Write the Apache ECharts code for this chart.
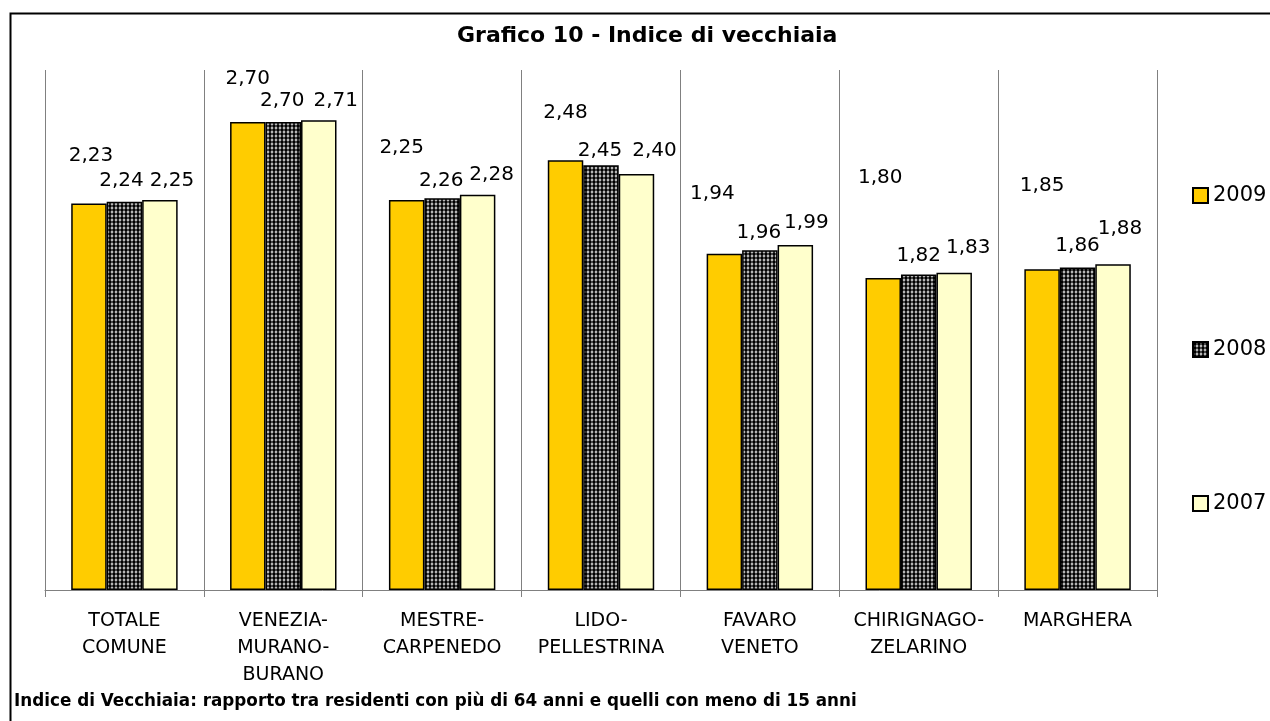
<!DOCTYPE html>
<html>
<head>
<meta charset="utf-8">
<title>Grafico 10 - Indice di vecchiaia</title>
<script src="https://cdn.jsdelivr.net/npm/echarts@6/dist/echarts.min.js"></script>
<style>
  html, body { margin: 0; padding: 0; background: #fff; }
  #chart { width: 1270px; height: 721px; }
</style>
</head>
<body>
<div id="chart"></div>
<script>
// zone names (as printed under the bars)
var categories = [
  'TOTALE\nCOMUNE',
  'VENEZIA-\nMURANO-\nBURANO',
  'MESTRE-\nCARPENEDO',
  'LIDO-\nPELLESTRINA',
  'FAVARO\nVENETO',
  'CHIRIGNAGO-\nZELARINO',
  'MARGHERA'
];
var years = ['2009', '2008', '2007'];
var values2009 = [2.23, 2.70, 2.25, 2.48, 1.94, 1.80, 1.85];
var values2008 = [2.24, 2.70, 2.26, 2.45, 1.96, 1.82, 1.86];
var values2007 = [2.25, 2.71, 2.28, 2.40, 1.99, 1.83, 1.88];

// labels were dragged by hand in the original: gap above the bar and sideways nudge
var lift2009 = [38, 33, 42, 37, 50, 90, 74];
var lift2008 = [11, 11, 7, 5, 7, 9, 12];
var lift2007 = [9, 9, 10, 13, 12, 15, 25];
var nudge2009 = [2, 0, -5, 0, -12, -3, 0];
var nudge2008 = [-3, -1, -1, -1, -1, 0, 0];
var nudge2007 = [12, 17, 14, 18, 11, 14, 7];

var FONT = 'DejaVu Sans';

// black dotted fill for 2008
function dotPattern() {
  var c = document.createElement('canvas');
  c.width = 4; c.height = 4;
  var ctx = c.getContext('2d');
  ctx.fillStyle = '#fff';
  ctx.fillRect(0, 0, 4, 4);
  ctx.fillStyle = '#000';
  ctx.beginPath();
  ctx.arc(2, 2, 1.9, 0, Math.PI * 2);
  ctx.fill();
  return c;
}

function fmt(p) {
  return p.value.toFixed(2).replace('.', ',');
}

function barSeries(name, values, fill, lifts, nudges) {
  return {
    name: name,
    type: 'bar',
    barGap: '0%',
    barCategoryGap: '33%',
    itemStyle: { color: fill, borderColor: '#000', borderWidth: 1.5 },
    label: {
      show: true,
      position: 'top',
      formatter: fmt,
      fontFamily: FONT,
      fontSize: 20,
      color: '#000'
    },
    data: values.map(function (v, i) {
      return { value: v, label: { distance: lifts[i], offset: [nudges[i], 0] } };
    })
  };
}

var chart = echarts.init(document.getElementById('chart'));
chart.setOption({
  animation: false,
  backgroundColor: '#fff',
  title: {
    text: 'Grafico 10 - Indice di vecchiaia',
    left: 452,
    top: 20,
    textStyle: { fontFamily: FONT, fontWeight: 'bold', fontSize: 22, color: '#000' }
  },
  legend: {
    data: years,
    orient: 'vertical',
    left: 1187,
    top: 180,
    itemWidth: 15,
    itemHeight: 15,
    itemGap: 133,
    icon: 'rect',
    textStyle: { fontFamily: FONT, fontSize: 21, color: '#000' }
  },
  grid: { left: 45, right: 113, top: 70, bottom: 131 },
  xAxis: {
    type: 'category',
    data: categories,
    axisLine: { lineStyle: { color: '#808080', width: 1 } },
    axisTick: { show: true, length: 7, lineStyle: { color: '#808080' } },
    splitLine: { show: true, lineStyle: { color: '#808080', width: 1 } },
    axisLabel: {
      interval: 0,
      margin: 18,
      fontFamily: FONT,
      fontSize: 19,
      lineHeight: 27,
      color: '#000'
    }
  },
  yAxis: {
    type: 'value',
    min: 0,
    max: 3,
    show: false,
    splitLine: { show: false }
  },
  series: [
    barSeries('2009', values2009, '#FFCC00', lift2009, nudge2009),
    barSeries('2008', values2008, { image: dotPattern(), repeat: 'repeat' }, lift2008, nudge2008),
    barSeries('2007', values2007, '#FFFFCC', lift2007, nudge2007)
  ],
  graphic: [
    {
      type: 'rect',
      left: 8,
      top: 11,
      shape: { width: 1280, height: 730 },
      style: { fill: null, stroke: '#000', lineWidth: 2 },
      silent: true,
      z: -1
    },
    {
      type: 'text',
      left: 14,
      top: 693,
      style: {
        text: 'Indice di Vecchiaia: rapporto tra residenti con più di 64 anni e quelli con meno di 15 anni',
        font: 'bold 16.8px "DejaVu Sans"',
        fill: '#000'
      }
    }
  ]
});
</script>
</body>
</html>
